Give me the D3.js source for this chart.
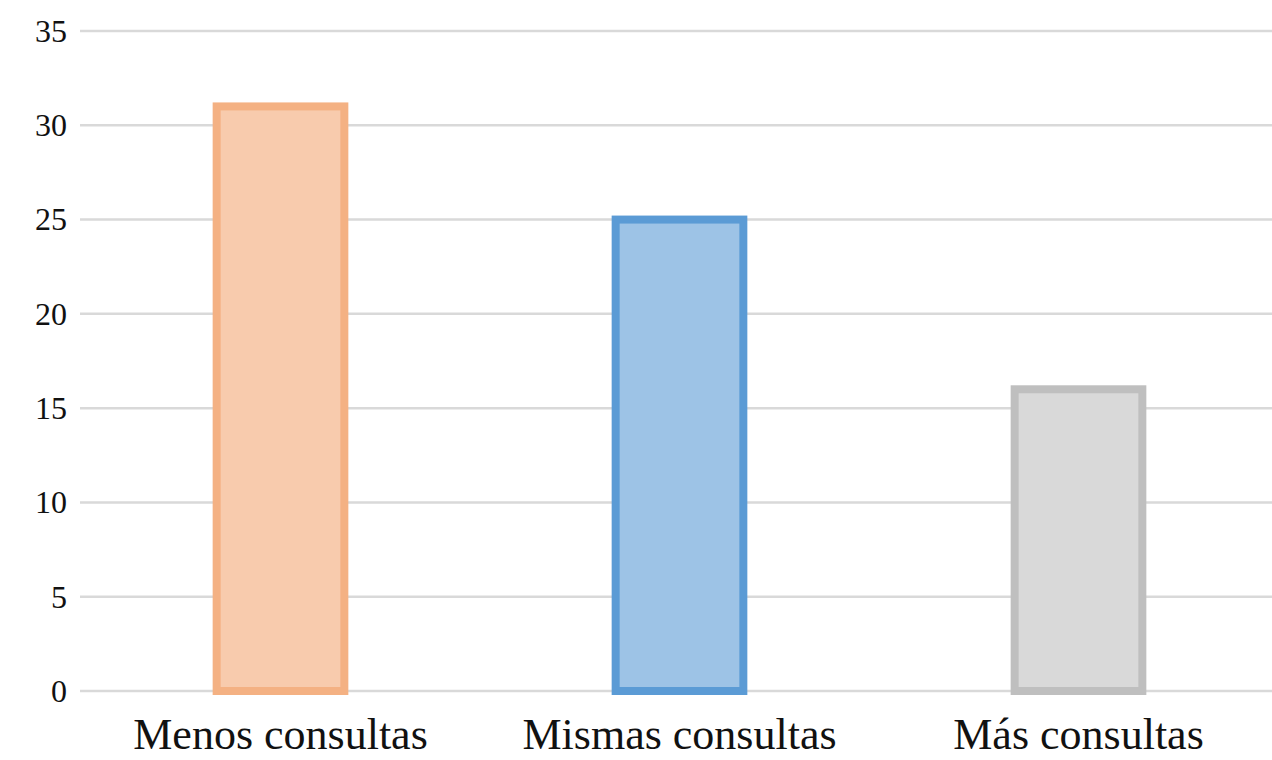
<!DOCTYPE html>
<html>
<head>
<meta charset="utf-8">
<script src="https://cdn.jsdelivr.net/npm/d3@7"></script>
<style>
  body { margin: 0; background: #ffffff; }
</style>
</head>
<body>
<div id="chart"></div>
<script>
// Data
const categories = ["Menos consultas", "Mismas consultas", "Más consultas"];
const values = [31, 25, 16];
const yTicks = [0, 5, 10, 15, 20, 25, 30, 35];

// Colours per bar
const fills = ["#f8cbad", "#9dc3e6", "#d9d9d9"];
const strokes = ["#f4b183", "#5b9bd5", "#bfbfbf"];

const fontFamily = "'Liberation Serif', 'DejaVu Serif', 'Times New Roman', serif";
const width = 1272;
const height = 760;

const svg = d3.select("#chart")
    .append("svg")
    .attr("width", width)
    .attr("height", height);

const x = d3.scaleBand()
    .domain(categories)
    .range([81, 1278])
    .paddingInner(0.68)
    .paddingOuter(0.34);

const y = d3.scaleLinear()
    .domain([0, 35])
    .range([691, 31]);

// Gridlines
svg.append("g")
    .selectAll("line")
    .data(yTicks)
    .enter().append("line")
    .attr("x1", 80)
    .attr("x2", width)
    .attr("y1", d => y(d))
    .attr("y2", d => y(d))
    .attr("stroke", "#d9d9d9")
    .attr("stroke-width", 2.5);

// Y tick labels
svg.append("g")
    .selectAll("text")
    .data(yTicks)
    .enter().append("text")
    .attr("x", 67)
    .attr("y", d => y(d))
    .attr("dy", "0.34em")
    .attr("text-anchor", "end")
    .attr("font-family", fontFamily)
    .attr("font-size", 32)
    .attr("fill", "#111")
    .text(d => d);

// Bars
const bw = x.bandwidth();
svg.append("g")
    .selectAll("rect")
    .data(values)
    .enter().append("rect")
    .attr("x", (d, i) => x(categories[i]))
    .attr("y", d => y(d))
    .attr("width", bw)
    .attr("height", d => y(0) - y(d))
    .attr("fill", (d, i) => fills[i])
    .attr("stroke", (d, i) => strokes[i])
    .attr("stroke-width", 8);

// Category labels
svg.append("g")
    .selectAll("text")
    .data(categories)
    .enter().append("text")
    .attr("x", d => x(d) + bw / 2)
    .attr("y", 749)
    .attr("text-anchor", "middle")
    .attr("font-family", fontFamily)
    .attr("font-size", 44)
    .attr("fill", "#111")
    .text(d => d);
</script>
</body>
</html>
